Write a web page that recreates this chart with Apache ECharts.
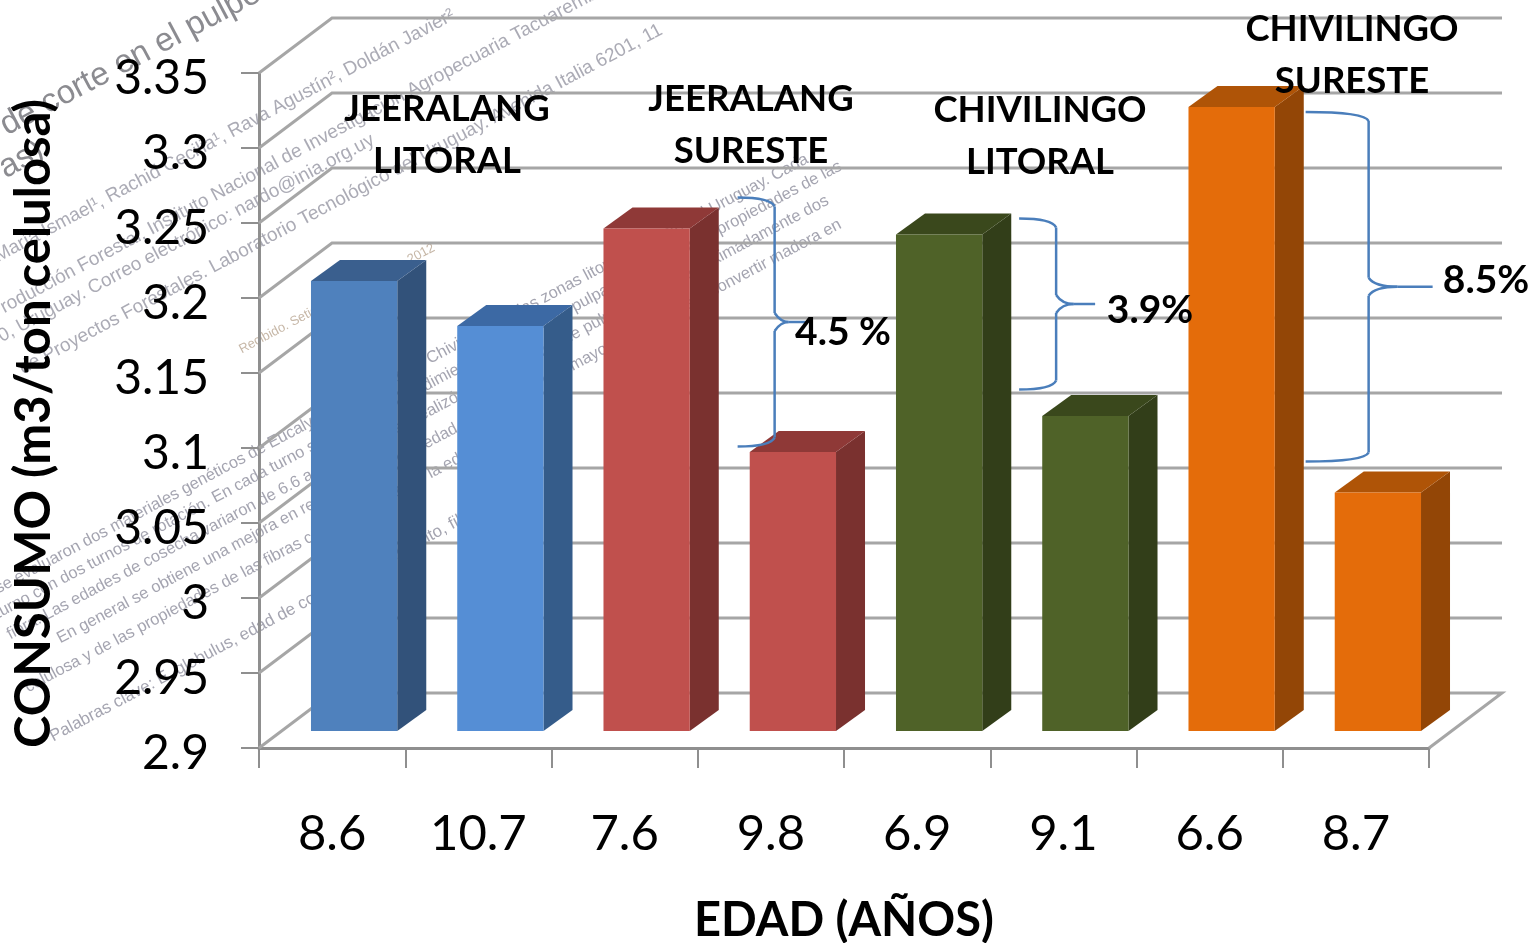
<!DOCTYPE html>
<html>
<head>
<meta charset="utf-8">
<style>html,body{margin:0;padding:0;background:#fff}#chart{width:1531px;height:943px}</style>
<script src="https://cdn.jsdelivr.net/npm/echarts@6/dist/echarts.min.js"></script>
</head>
<body>
<div id="chart"></div>
<script>
// Pulp wood consumption by clone, zone and harvest age
var ages = ['8.6', '10.7', '7.6', '9.8', '6.9', '9.1', '6.6', '8.7'];
var consumption = [3.2, 3.17, 3.235, 3.086, 3.231, 3.11, 3.316, 3.059];
var frontColors = ['#4F81BD', '#558ED5', '#C0504D', '#C0504D', '#4F6228', '#4F6228', '#E46C0A', '#E46C0A'];
var sideColors = ['#32527A', '#355C8A', '#7A312F', '#7A312F', '#323E19', '#323E19', '#934606', '#934606'];
var topColors = ['#3A5F8E', '#3C69A4', '#8F3937', '#8F3937', '#3A481C', '#3A481C', '#AF5407', '#AF5407'];
var valueTicks = [2.9, 2.95, 3, 3.05, 3.1, 3.15, 3.2, 3.25, 3.3, 3.35];

var zoneLabels = [['JEERALANG', 'LITORAL'], ['JEERALANG', 'SURESTE'], ['CHIVILINGO', 'LITORAL'], ['CHIVILINGO', 'SURESTE']];
var gapLabels = ['4.5 %', '3.9%', '8.5%'];
var braceCategories = [2, 4, 6];
var braceTops = [3.267, 3.253, 3.324];
var braceBottoms = [3.101, 3.139, 3.091];

var watermarkLines = [
  'd de corte en el pulpeo',
  'davas)',
  'María Ismael¹, Rachid Cecilia¹, Rava Agustín², Doldán Javier²',
  'Producción Forestal, Instituto Nacional de Investigación Agropecuaria Tacuarembó.',
  '100, Uruguay. Correo electrónico: nardo@inia.org.uy',
  'de Proyectos Forestales. Laboratorio Tecnológico del Uruguay. Avenida Italia 6201, 11',
  'Recibido. Setiembre - Aceptado: 2012',
  'se evaluaron dos materiales genéticos de Eucalyptus, Jeeralang y Chivilingo, en las zonas litoral y sureste del Uruguay. Cada',
  'turno con dos turnos de rotación. En cada turno se midieron el rendimiento, la calidad de pulpa y el consumo, y propiedades de las',
  'fibra. Las edades de cosecha variaron de 6.6 a 10.7 años y se realizó una evaluación de pulpa anual en aproximadamente dos',
  'En general se obtiene una mejora en rendimiento con la edad de cosecha, con mayor potencial para convertir madera en',
  'celulosa y de las propiedades de las fibras con el aumento de la edad',
  'Palabras clave: E. globulus, edad de cosecha, rendimiento, fibra'
];

// Layout of the pseudo-3D box and overlays, in pixels
var WALL_DX = 73, WALL_DY = 55;
var BAR_SHIFT_X = 22, BAR_SHIFT_Y = 17, BAR_DX = 29, BAR_DY = 21, BAR_RATIO = 0.59;
var BODY_FONT = 'Lato, "Open Sans", sans-serif';
var zoneAnchors = [[447, 109], [751, 99], [1040, 110], [1352, 29]];
var gapAnchors = [[843, 332], [1150, 310], [1486, 280]];
var braceGeometry = [[113, 150, 181], [102, 139, 178], [96, 159, 223]];
var watermarkPlacement = [
  [-14, 155, 33, '#77777d'], [-38, 210, 33, '#77777d'],
  [0, 266, 19, '#9c9ca8'], [-5, 323, 19, '#9c9ca8'], [-15, 356, 19, '#9c9ca8'], [25, 378, 19, '#9c9ca8'],
  [243, 356, 13, '#bcaa98'],
  [0, 597, 16.5, '#9494a2'], [0, 622, 16.5, '#9494a2'], [12, 643, 16.5, '#9494a2'], [62, 647, 16.5, '#9494a2'], [30, 696, 16.5, '#9494a2'], [55, 745, 17, '#9494a2']
];
var GRID_COLOR = '#a6a6a6', AXIS_COLOR = '#8f8f8f', BRACE_COLOR = '#4a7ebb';

function renderWall(params, api) {
  var cs = params.coordSys;
  var y = api.coord([0, api.value(0)])[1];
  var left = cs.x, right = cs.x + cs.width;
  var pts = [[left, y], [left + WALL_DX, y - WALL_DY], [right + WALL_DX, y - WALL_DY]];
  if (params.dataIndex === 0) {
    pts.push([right, y]);
  }
  return { type: 'polyline', shape: { points: pts }, style: { stroke: GRID_COLOR, lineWidth: 3, fill: null } };
}

function renderBar(params, api) {
  var i = params.dataIndex;
  var top = api.coord([api.value(0), api.value(1)]);
  var base = api.coord([api.value(0), valueTicks[0]]);
  var w = api.size([1, 0])[0] * BAR_RATIO;
  var x0 = top[0] + BAR_SHIFT_X - w / 2, x1 = x0 + w;
  var yT = top[1] - BAR_SHIFT_Y, yB = base[1] - BAR_SHIFT_Y;
  return {
    type: 'group',
    children: [
      { type: 'polygon', shape: { points: [[x1, yT], [x1 + BAR_DX, yT - BAR_DY], [x1 + BAR_DX, yB - BAR_DY], [x1, yB]] }, style: { fill: sideColors[i] } },
      { type: 'polygon', shape: { points: [[x0, yT], [x0 + BAR_DX, yT - BAR_DY], [x1 + BAR_DX, yT - BAR_DY], [x1, yT]] }, style: { fill: topColors[i] } },
      { type: 'rect', shape: { x: x0, y: yT, width: w, height: yB - yT }, style: { fill: frontColors[i] } }
    ]
  };
}

function renderBrace(params, api) {
  var i = params.dataIndex;
  var cx = api.coord([api.value(0), valueTicks[0]])[0];
  var yT = api.coord([0, api.value(1)])[1], yB = api.coord([0, api.value(2)])[1];
  var g = braceGeometry[i];
  var xS = cx + g[0], xM = cx + g[1], xE = cx + g[2];
  var yM = (yT + yB) / 2;
  var style = { stroke: BRACE_COLOR, lineWidth: 2.5, fill: null };
  function curve(x1, y1, cx1, cy1, x2, y2) {
    return { type: 'bezierCurve', shape: { x1: x1, y1: y1, x2: x2, y2: y2, cpx1: cx1, cpy1: cy1 }, style: style };
  }
  function line(x1, y1, x2, y2) {
    return { type: 'line', shape: { x1: x1, y1: y1, x2: x2, y2: y2 }, style: style };
  }
  var mid = xM + (xE - xM) * 0.45;
  return {
    type: 'group',
    children: [
      curve(xS, yT, xM - 4, yT, xM, yT + 9),
      line(xM, yT + 9, xM, yM - 9),
      curve(xM, yM - 9, xM + 6, yM, mid, yM),
      line(mid, yM, xE, yM),
      curve(xM, yM + 9, xM + 6, yM, mid, yM),
      line(xM, yM + 9, xM, yB - 9),
      curve(xM, yB - 9, xM - 4, yB, xS, yB)
    ]
  };
}

function renderZoneLabel(params) {
  var i = params.dataIndex;
  var a = zoneAnchors[i];
  return {
    type: 'text',
    style: {
      x: a[0], y: a[1], text: zoneLabels[i].join('\n'), fill: '#000', align: 'center', verticalAlign: 'middle',
      font: 'bold 36.5px ' + BODY_FONT, lineHeight: 52
    },
    y: 26
  };
}

function renderGapLabel(params) {
  var a = gapAnchors[params.dataIndex];
  return {
    type: 'text',
    style: {
      x: a[0], y: a[1], text: gapLabels[params.dataIndex], fill: '#000', align: 'center', verticalAlign: 'middle',
      font: 'bold 39px ' + BODY_FONT
    }
  };
}

var chart = echarts.init(document.getElementById('chart'), null, { renderer: 'canvas' });
chart.setOption({
  animation: false,
  backgroundColor: '#fff',
  grid: { left: 259, top: 73, width: 1170, height: 675, containLabel: false, outerBoundsMode: 'none' },
  xAxis: {
    type: 'category',
    data: ages,
    name: 'EDAD (AÑOS)',
    nameLocation: 'middle',
    nameGap: 149,
    nameTextStyle: { fontFamily: BODY_FONT, fontWeight: 'bold', fontSize: 47, color: '#000' },
    boundaryGap: true,
    axisLine: { show: true, lineStyle: { color: AXIS_COLOR, width: 3 } },
    axisTick: { show: true, alignWithLabel: false, length: 20, lineStyle: { color: AXIS_COLOR, width: 2 } },
    axisLabel: { fontFamily: BODY_FONT, fontSize: 49, color: '#000', margin: 62, interval: 0 },
    splitLine: { show: false }
  },
  yAxis: {
    type: 'value',
    min: 2.9,
    max: 3.35,
    interval: 0.05,
    name: 'CONSUMO (m3/ton celulosa)',
    nameLocation: 'middle',
    nameGap: 200,
    nameRotate: 90,
    nameTextStyle: { fontFamily: BODY_FONT, fontWeight: 'bold', fontSize: 49, color: '#000', padding: [0, 26, 0, 0] },
    axisLine: { show: true, lineStyle: { color: AXIS_COLOR, width: 3 } },
    axisTick: { show: true, length: 18, lineStyle: { color: AXIS_COLOR, width: 2 } },
    axisLabel: { fontFamily: BODY_FONT, fontSize: 48, color: '#000', margin: 50, verticalAlign: 'top', lineHeight: 12 },
    splitLine: { show: false }
  },
  graphic: {
    elements: watermarkLines.map(function (text, i) {
      var p = watermarkPlacement[i];
      return {
        type: 'text', x: p[0], y: p[1], rotation: 28 * Math.PI / 180, silent: true,
        style: {
          text: text, fill: p[3], align: 'left', verticalAlign: 'bottom',
          font: p[2] + 'px "Liberation Sans", sans-serif', opacity: 0.85
        }
      };
    })
  },
  series: [
    { type: 'custom', name: 'walls', z: 1, silent: true, data: valueTicks.map(function (v) { return [v]; }), renderItem: renderWall, encode: { y: 0 }, clip: false },
    { type: 'custom', name: 'CONSUMO', z: 3, silent: true, data: consumption.map(function (v, i) { return [i, v]; }), renderItem: renderBar, encode: { x: 0, y: 1 }, clip: false },
    { type: 'custom', name: 'braces', z: 4, silent: true, data: braceCategories.map(function (c, i) { return [c, braceTops[i], braceBottoms[i]]; }), renderItem: renderBrace, encode: { x: 0, y: [1, 2] }, clip: false },
    { type: 'custom', name: 'zones', z: 5, silent: true, data: zoneLabels.map(function (z, i) { return [i]; }), renderItem: renderZoneLabel, encode: {}, clip: false },
    { type: 'custom', name: 'gaps', z: 5, silent: true, data: gapLabels.map(function (z, i) { return [i]; }), renderItem: renderGapLabel, encode: {}, clip: false }
  ]
});
</script>
</body>
</html>
